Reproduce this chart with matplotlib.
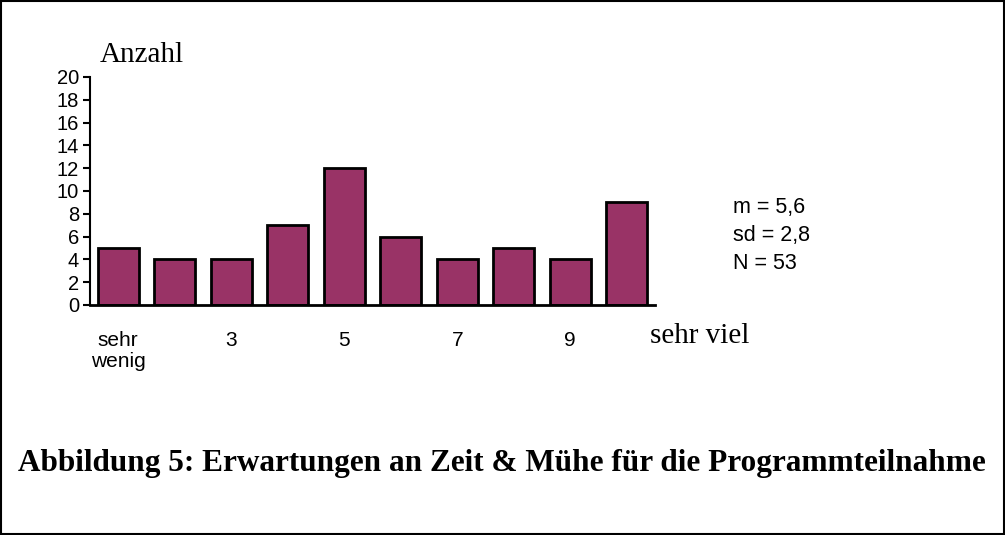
import matplotlib.pyplot as plt
from matplotlib.patches import Rectangle

# Antworten auf der Skala 1 (sehr wenig) bis 10 (sehr viel)
scale = [1, 2, 3, 4, 5, 6, 7, 8, 9, 10]
counts = [5, 4, 4, 7, 12, 6, 4, 5, 4, 9]
tick_pos = [1, 3, 5, 7, 9]
tick_labels = ['sehr\nwenig', '3', '5', '7', '9']
stats = ['m = 5,6', 'sd = 2,8', 'N = 53']
caption = 'Abbildung 5: Erwartungen an Zeit & Mühe für die Programmteilnahme'

plt.rcParams['font.family'] = ['Liberation Sans', 'DejaVu Sans']
serif = ['Liberation Serif', 'DejaVu Serif']

fig = plt.figure(figsize=(10.05, 5.35), dpi=100)
ax = fig.add_axes([90 / 1005, 1 - 305 / 535, 565 / 1005, 228 / 535])

ax.bar(scale, counts, width=0.72, color='#993366', edgecolor='black', linewidth=2)
ax.set_xlim(0.5, 10.5)
ax.set_ylim(0, 20)
ax.set_yticks(range(0, 21, 2))
ax.set_xticks(tick_pos)
ax.set_xticklabels(tick_labels, fontsize=15, va='top', linespacing=1.1)
ax.tick_params(axis='x', length=0, pad=19)
ax.tick_params(axis='y', length=5, width=1.5, labelsize=14.5, pad=3)
for s in ['top', 'right']:
    ax.spines[s].set_visible(False)
ax.spines['left'].set_linewidth(1.5)
ax.spines['bottom'].set_linewidth(2)

fig.text(100 / 1005, 1 - 55 / 535, 'Anzahl', family=serif, fontsize=21, va='center')
fig.text(650 / 1005, 1 - 336 / 535, 'sehr viel', family=serif, fontsize=21, va='center')
for i, s in enumerate(stats):
    fig.text(733 / 1005, 1 - (208 + 28 * i) / 535, s, fontsize=15.5, va='center')
fig.text(18 / 1005, 1 - 463 / 535, caption, family=serif, fontsize=22.5,
         fontweight='bold', va='center')

fig.add_artist(Rectangle((0.001, 0.002), 0.998, 0.996, transform=fig.transFigure,
                         fill=False, edgecolor='black', linewidth=1.5))

fig.savefig('out.png', dpi=100)
